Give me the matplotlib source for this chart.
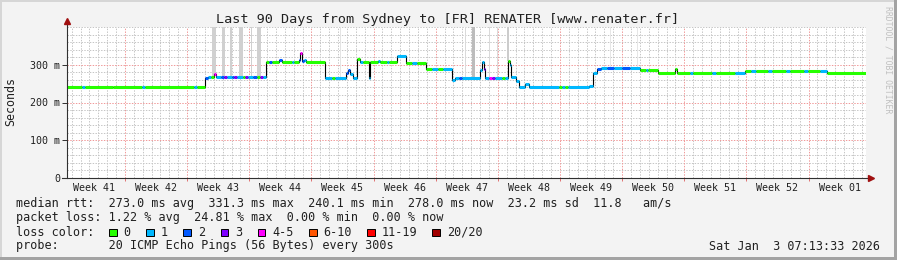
import numpy as np
import matplotlib
matplotlib.use("Agg")
import matplotlib.pyplot as plt
from matplotlib.patches import Rectangle

# --- data (days since start of the 90 day window) ---
seg_t = [0.00, 1.70, 2.00, 5.18, 8.50, 8.80, 14.30, 14.60,
         15.54, 15.90, 16.20, 16.55, 16.75, 17.40, 17.70, 18.00, 18.55, 18.80, 19.15,
         19.80, 20.05, 20.40, 21.00, 21.40, 21.75, 22.05,
         22.41, 22.80, 23.10, 23.90, 24.20, 25.30, 25.60, 26.10, 26.30, 26.42, 26.70, 26.90,
         29.06, 29.80, 30.20, 31.40, 31.65, 31.90, 32.20, 32.67, 32.95, 33.30, 34.02, 34.13,
         35.00, 35.30, 36.00, 36.30, 37.17, 38.18, 38.90, 39.40, 40.44, 41.10, 41.80, 42.40,
         43.37, 43.70, 44.20, 44.50, 46.55, 46.70, 46.95, 47.10, 47.50, 47.90, 48.20, 49.00,
         49.35, 49.67, 49.90, 50.05, 50.55, 50.95, 51.60, 52.05, 55.40, 55.80, 56.10, 56.40,
         58.80, 59.25, 59.70, 60.10, 60.80, 61.60, 62.50, 63.40, 64.54, 65.20, 65.50, 66.57,
         68.48, 68.75, 70.20, 70.50, 72.60, 73.10, 75.30, 76.37, 77.00, 77.60, 79.00, 79.40,
         81.00, 81.40, 83.00, 83.50, 84.80, 85.61]
seg_rtt = [240, 240, 240, 242, 242, 242, 242, 242,
           264, 267, 267, 276, 267, 268, 268, 267, 267, 268, 267,
           267, 268, 267, 267, 267, 268, 267,
           307, 307, 307, 312, 308, 308, 308, 312, 331, 310, 312, 308,
           264, 264, 264, 278, 286, 276, 265, 315, 308, 308, 265, 308,
           309, 308, 308, 308, 324, 305, 305, 305, 290, 290, 290, 290,
           260, 265, 265, 265, 285, 306, 290, 266, 266, 266, 266, 266,
           266, 309, 300, 267, 258, 242, 250, 242, 240, 240, 240, 242,
           245, 279, 288, 291, 292, 292, 292, 292, 286, 286, 286, 279,
           289, 278, 278, 278, 279, 278, 278, 284, 284, 284, 284, 284,
           284, 284, 284, 284, 284, 277]
seg_loss = [0, 1, 0, 0, 1, 0, 1, 0,
            2, 1, 0, 4, 1, 2, 3, 1, 2, 3, 1,
            0, 3, 1, 2, 0, 3, 1,
            0, 2, 0, 2, 0, 1, 0, 2, 4, 2, 1, 0,
            1, 0, 1, 2, 2, 1, 1, 0, 1, 0, 1, 0,
            1, 0, 1, 0, 1, 0, 1, 0, 0, 1, 0, 1,
            1, 1, 2, 1, 1, 1, 3, 1, 4, 3, 1, 0,
            1, 0, 1, 1, 1, 1, 1, 1, 0, 1, 0, 1,
            1, 1, 2, 1, 2, 1, 2, 1, 0, 1, 0, 0,
            0, 0, 1, 0, 1, 0, 1, 0, 1, 0, 1, 0,
            1, 0, 1, 0, 1, 0]
t_end = 90.0

# gray smoke spikes (ping spread reaching the top)
smoke_t0 = [16.33, 17.46, 18.36, 19.37, 20.67, 21.40, 30.75, 44.83, 45.62, 46.69, 47.53, 48.43, 49.56, 61.16, 64.20]
smoke_t1 = [16.78, 17.80, 18.59, 19.82, 20.84, 21.85, 30.83, 44.94, 45.96, 46.80, 47.64, 48.54, 49.84, 61.24, 64.28]
smoke_lo = [270, 270, 270, 270, 270, 270, 266, 267, 267, 308, 268, 268, 310, 294, 290]
smoke_col = ['#d0d0d0'] * 6 + ['#e4e4e4', '#dadada', '#bcbcbc', '#dadada', '#dadada', '#dadada', '#cccccc', '#e6e6e6', '#e6e6e6']

loss_labels = ['0', '1', '2', '3', '4-5', '6-10', '11-19', '20/20']
loss_colors = ['#26ff00', '#00b8ff', '#0059ff', '#7e00ff', '#ff00ff', '#ff5500', '#ff0000', '#a10000']

week_labels = ['Week 41', 'Week 42', 'Week 43', 'Week 44', 'Week 45', 'Week 46', 'Week 47',
               'Week 48', 'Week 49', 'Week 50', 'Week 51', 'Week 52', 'Week 01']
first_week = 6.53  # day of first week boundary

title = 'Last 90 Days from Sydney to [FR] RENATER [www.renater.fr]'
rows = ['median rtt:  273.0 ms avg  331.3 ms max  240.1 ms min  278.0 ms now  23.2 ms sd  11.8   am/s',
        'packet loss: 1.22 % avg  24.81 % max  0.00 % min  0.00 % now',
        'loss color:',
        'probe:       20 ICMP Echo Pings (56 Bytes) every 300s']
stamp = 'Sat Jan  3 07:13:33 2026'

MONO = 'DejaVu Sans Mono'
W, H = 897, 260
BG = '#f3f3f3'

fig = plt.figure(figsize=(W / 100, H / 100), dpi=100, facecolor=BG)


def fx(x):
    return x / W


def fy(y):
    return 1 - y / H


def frect(x, y, w, h, **kw):
    fig.add_artist(Rectangle((fx(x), fy(y + h)), w / W, h / H, transform=fig.transFigure, **kw))


# 3d-ish frame
frect(0, 0, W, 2, color='#d6d6d6', lw=0)
frect(0, 0, 2, H, color='#d6d6d6', lw=0)
frect(0, H - 3, W, 3, color='#a3a3a3', lw=0)
frect(W - 3, 0, 3, H, color='#a3a3a3', lw=0)

ax = fig.add_axes([fx(67), fy(178), 799 / W, 151 / H])
ax.set_facecolor('white')
ax.set_xlim(0, 90)
ax.set_ylim(0, 400)
for s in ax.spines.values():
    s.set_visible(False)

# grid, 1px dotted
dot = (0, (1.4, 1.4))
gkw = dict(lw=0.72, ls=dot, snap=True)
for v in range(20, 401, 20):
    if v % 100 != 0 or v == 400:
        ax.axhline(v, color='#c6c6c6', zorder=0, **gkw)
weeks = [first_week + 7 * k for k in range(12)]
for d in np.arange(first_week - 6, 90, 1.0):
    if min(abs(d - w) for w in weeks) > 0.01:
        ax.axvline(d, color='#c6c6c6', zorder=0, **gkw)
for v in (100, 200, 300):
    ax.axhline(v, color='#f09a9a', zorder=0.5, **gkw)
for w in weeks:
    ax.axvline(w, color='#f09a9a', zorder=0.5, **gkw)

# smoke
for a, b, lo, c in zip(smoke_t0, smoke_t1, smoke_lo, smoke_col):
    ax.bar(a, 400 - lo, width=b - a, bottom=lo, align='edge', color=c, lw=0, zorder=1)

# median line: black steps plus loss-colored segments
tt = np.append(seg_t, t_end)
ax.step(tt, np.append(seg_rtt, seg_rtt[-1]), where='post', color='black', lw=0.8, zorder=2)
for i in range(len(seg_t)):
    ax.hlines(seg_rtt[i], tt[i], tt[i + 1], colors=loss_colors[seg_loss[i]], lw=2.2, zorder=3)

# axes with arrows
ax.plot([0, 0], [0, 1 + 6 / 151], transform=ax.transAxes, color='#303030', lw=0.8, clip_on=False, zorder=4)
ax.plot([-5 / 799, 1 + 5 / 799], [0, 0], transform=ax.transAxes, color='#303030', lw=0.8, clip_on=False, zorder=4)
ax.plot([0], [1 + 6 / 151], transform=ax.transAxes, marker='^', ms=4.5, color='#a01010', clip_on=False, zorder=5)
ax.plot([1 + 5 / 799], [0], transform=ax.transAxes, marker='>', ms=4.5, color='#a01010', clip_on=False, zorder=5)

ax.set_yticks([0, 100, 200, 300])
ax.set_yticklabels(['0', '100 m', '200 m', '300 m'], family=MONO, fontsize=7.2, color='#202020')
ax.tick_params(axis='y', length=3.5, width=0.7, color='#303030', pad=1.5)
ax.set_xticks(weeks)
ax.set_xticklabels([])
ax.tick_params(axis='x', length=2.5, width=0.7, color='#e07070')

for k, lab in enumerate(week_labels):
    ax.text(first_week - 3.5 + 7 * k, -9.7 / 151, lab, transform=ax.get_xaxis_transform(),
            ha='center', va='center', family=MONO, fontsize=7.2, color='#202020')

# texts
fig.text(fx(448), fy(19), title, ha='center', va='center', family=MONO, fontsize=9.7, color='#202020')
fig.text(fx(11), fy(102), 'Seconds', rotation=90, ha='center', va='center', family=MONO, fontsize=8.4, color='#202020')
fig.text(fx(888), fy(60), 'RRDTOOL / TOBI OETIKER', rotation=-90, ha='center', va='center',
         family=MONO, fontsize=5.9, color='#c0c0c0')

row_y = [204, 218, 232, 246]
for r, y in zip(rows, row_y):
    fig.text(fx(16), fy(y), r, ha='left', va='center', family=MONO, fontsize=8.5, color='#202020')
fig.text(fx(880), fy(246), stamp, ha='right', va='center', family=MONO, fontsize=8.5, color='#202020')

bx = 109.0
for lab, c in zip(loss_labels, loss_colors):
    frect(bx, 228.5, 7.5, 7.5, facecolor=c, edgecolor='black', lw=0.7)
    fig.text(fx(bx + 14.3), fy(232), lab, ha='left', va='center', family=MONO, fontsize=8.5, color='#202020')
    bx += 30.2 + 7.0 * len(lab)

fig.savefig('out.png', dpi=100, facecolor=BG)
